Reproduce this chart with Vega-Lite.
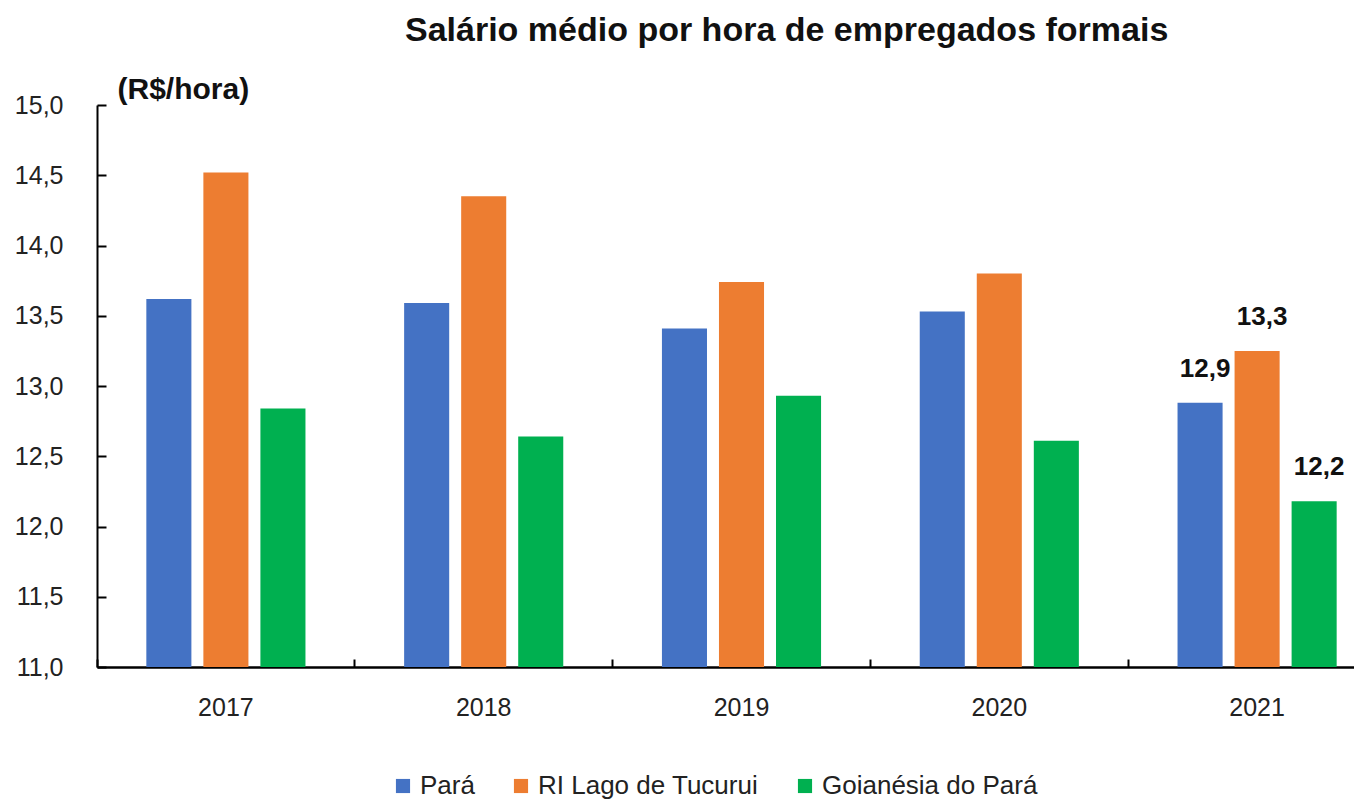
{
  "$schema": "https://vega.github.io/schema/vega-lite/v6.json",
  "width": 1289,
  "height": 562,
  "autosize": {"type": "none"},
  "padding": {"left": 97, "top": 105, "right": 0, "bottom": 134},
  "background": "white",
  "title": {
    "text": "Salário médio por hora de empregados formais",
    "font": "Liberation Sans",
    "fontSize": 34,
    "fontWeight": "bold",
    "color": "#111111",
    "anchor": "start",
    "frame": "group",
    "dx": 308,
    "offset": 26
  },
  "data": {
    "values": [
      {"ano": "2017", "serie": "Pará", "valor": 13.62, "rotulo": ""},
      {"ano": "2017", "serie": "RI Lago de Tucurui", "valor": 14.52, "rotulo": ""},
      {"ano": "2017", "serie": "Goianésia do Pará", "valor": 12.84, "rotulo": ""},
      {"ano": "2018", "serie": "Pará", "valor": 13.59, "rotulo": ""},
      {"ano": "2018", "serie": "RI Lago de Tucurui", "valor": 14.35, "rotulo": ""},
      {"ano": "2018", "serie": "Goianésia do Pará", "valor": 12.64, "rotulo": ""},
      {"ano": "2019", "serie": "Pará", "valor": 13.41, "rotulo": ""},
      {"ano": "2019", "serie": "RI Lago de Tucurui", "valor": 13.74, "rotulo": ""},
      {"ano": "2019", "serie": "Goianésia do Pará", "valor": 12.93, "rotulo": ""},
      {"ano": "2020", "serie": "Pará", "valor": 13.53, "rotulo": ""},
      {"ano": "2020", "serie": "RI Lago de Tucurui", "valor": 13.8, "rotulo": ""},
      {"ano": "2020", "serie": "Goianésia do Pará", "valor": 12.61, "rotulo": ""},
      {"ano": "2021", "serie": "Pará", "valor": 12.88, "rotulo": "12,9"},
      {"ano": "2021", "serie": "RI Lago de Tucurui", "valor": 13.25, "rotulo": "13,3"},
      {"ano": "2021", "serie": "Goianésia do Pará", "valor": 12.18, "rotulo": "12,2"}
    ]
  },
  "encoding": {
    "x": {
      "field": "ano",
      "type": "nominal",
      "scale": {"paddingInner": 0, "paddingOuter": 0},
      "axis": {
        "title": null,
        "bandPosition": 0,
        "domainColor": "#000000",
        "domainWidth": 2.5,
        "tickColor": "#000000",
        "tickWidth": 2,
        "tickSize": -8,
        "labelFont": "Liberation Sans",
        "labelFontSize": 25,
        "labelColor": "#222222",
        "labelPadding": 36,
        "labelAngle": 0
      }
    },
    "xOffset": {
      "field": "serie",
      "type": "nominal",
      "sort": ["Pará", "RI Lago de Tucurui", "Goianésia do Pará"],
      "scale": {"paddingInner": 0.21, "paddingOuter": 0.865}
    },
    "y": {
      "field": "valor",
      "type": "quantitative",
      "scale": {"domain": [11, 15], "zero": false, "nice": false},
      "axis": {
        "title": "(R$/hora)",
        "titleAngle": 0,
        "titleAlign": "left",
        "titleBaseline": "alphabetic",
        "titleX": 20,
        "titleY": -7,
        "titleFont": "Liberation Sans",
        "titleFontSize": 30,
        "titleFontWeight": "bold",
        "titleColor": "#111111",
        "values": [11, 11.5, 12, 12.5, 13, 13.5, 14, 14.5, 15],
        "labelExpr": "replace(format(datum.value, '.1f'), '.', ',')",
        "grid": false,
        "domainColor": "#000000",
        "domainWidth": 2,
        "tickColor": "#000000",
        "tickWidth": 2,
        "tickSize": -9,
        "labelFont": "Liberation Sans",
        "labelFontSize": 25,
        "labelColor": "#222222",
        "labelPadding": 43
      }
    }
  },
  "layer": [
    {
      "mark": {"type": "bar", "clip": true},
      "encoding": {
        "color": {
          "field": "serie",
          "type": "nominal",
          "sort": ["Pará", "RI Lago de Tucurui", "Goianésia do Pará"],
          "scale": {
            "domain": ["Pará", "RI Lago de Tucurui", "Goianésia do Pará"],
            "range": ["#4472C4", "#ED7D31", "#00B050"]
          },
          "legend": {
            "title": null,
            "orient": "none",
            "direction": "horizontal",
            "legendX": 293,
            "legendY": 668,
            "symbolType": "square",
            "symbolSize": 200,
            "symbolStrokeWidth": 0,
            "labelFont": "Liberation Sans",
            "labelFontSize": 26,
            "labelColor": "#222222",
            "labelOffset": 4,
            "labelLimit": 0,
            "columnPadding": 33
          }
        }
      }
    },
    {
      "mark": {
        "type": "text",
        "baseline": "alphabetic",
        "dy": -26,
        "dx": 5,
        "font": "Liberation Sans",
        "fontSize": 26,
        "fontWeight": "bold",
        "color": "#111111"
      },
      "encoding": {
        "text": {"field": "rotulo"}
      }
    }
  ],
  "config": {
    "view": {"stroke": null}
  }
}
